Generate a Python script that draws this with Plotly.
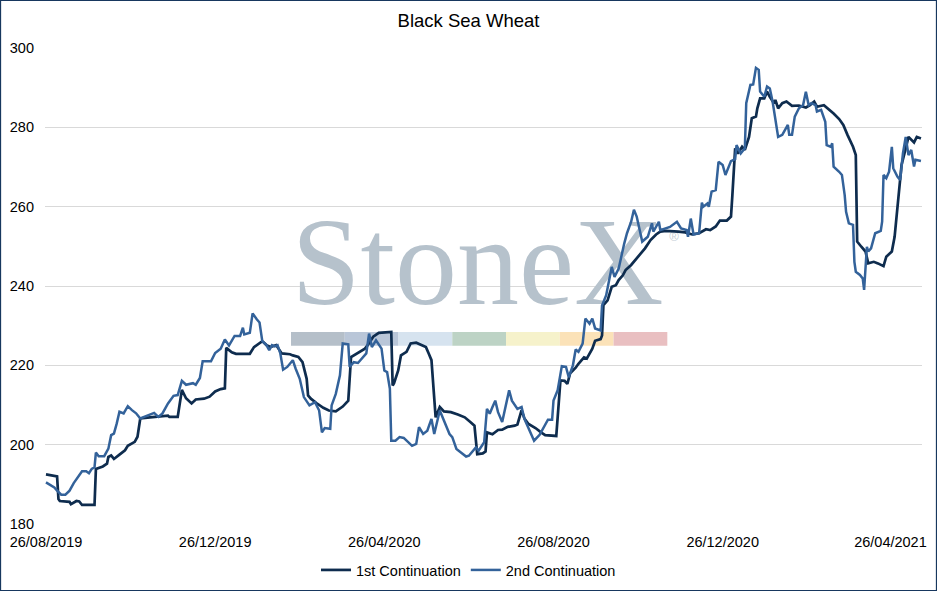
import plotly.graph_objects as go

# 1st continuation
dates_1 = [
    "2019-08-26", "2019-08-29", "2019-09-03", "2019-09-04", "2019-09-05", "2019-09-12",
    "2019-09-13", "2019-09-17", "2019-09-19", "2019-09-21", "2019-09-30", "2019-10-01",
    "2019-10-06", "2019-10-09", "2019-10-10", "2019-10-12", "2019-10-14", "2019-10-18",
    "2019-10-22", "2019-10-24", "2019-10-29", "2019-10-31", "2019-11-02", "2019-11-09",
    "2019-11-18", "2019-11-22", "2019-11-23", "2019-11-29", "2019-12-02", "2019-12-05",
    "2019-12-09", "2019-12-12", "2019-12-18", "2019-12-22", "2019-12-26", "2019-12-30",
    "2020-01-02", "2020-01-03", "2020-01-07", "2020-01-10", "2020-01-20", "2020-01-23",
    "2020-01-29", "2020-02-01", "2020-02-04", "2020-02-08", "2020-02-12", "2020-02-18",
    "2020-02-20", "2020-02-24", "2020-02-27", "2020-03-01", "2020-03-02", "2020-03-04",
    "2020-03-08", "2020-03-13", "2020-03-17", "2020-03-22", "2020-03-27", "2020-03-31",
    "2020-04-02", "2020-04-06", "2020-04-08", "2020-04-12", "2020-04-14", "2020-04-18",
    "2020-04-22", "2020-04-27", "2020-05-01", "2020-05-02", "2020-05-03", "2020-05-06",
    "2020-05-08", "2020-05-12", "2020-05-15", "2020-05-19", "2020-05-22", "2020-05-26",
    "2020-05-28", "2020-05-30", "2020-06-02", "2020-06-05", "2020-06-08", "2020-06-13",
    "2020-06-18", "2020-06-23", "2020-06-27", "2020-06-30", "2020-07-02", "2020-07-06",
    "2020-07-08", "2020-07-09", "2020-07-13", "2020-07-17", "2020-07-20", "2020-07-24",
    "2020-07-29", "2020-07-31", "2020-08-03", "2020-08-05", "2020-08-08", "2020-08-13",
    "2020-08-17", "2020-08-20", "2020-08-28", "2020-08-29", "2020-08-31", "2020-09-03",
    "2020-09-05", "2020-09-07", "2020-09-11", "2020-09-13", "2020-09-17", "2020-09-19",
    "2020-09-23", "2020-09-25", "2020-09-29", "2020-09-30", "2020-10-01", "2020-10-04",
    "2020-10-06", "2020-10-07", "2020-10-10", "2020-10-12", "2020-10-15", "2020-10-17",
    "2020-10-21", "2020-10-24", "2020-10-28", "2020-10-31", "2020-11-04", "2020-11-08",
    "2020-11-11", "2020-11-15", "2020-11-24", "2020-11-29", "2020-12-04", "2020-12-09",
    "2020-12-14", "2020-12-17", "2020-12-21", "2020-12-24", "2020-12-29", "2021-01-01",
    "2021-01-02", "2021-01-03", "2021-01-04", "2021-01-06", "2021-01-09", "2021-01-11",
    "2021-01-14", "2021-01-16", "2021-01-19", "2021-01-20", "2021-01-22", "2021-01-25",
    "2021-01-27", "2021-01-29", "2021-02-01", "2021-02-02", "2021-02-04", "2021-02-07",
    "2021-02-10", "2021-02-14", "2021-02-19", "2021-02-24", "2021-02-27", "2021-03-02",
    "2021-03-04", "2021-03-09", "2021-03-12", "2021-03-16", "2021-03-20", "2021-03-23",
    "2021-03-26", "2021-03-28", "2021-03-30", "2021-04-01", "2021-04-02", "2021-04-05",
    "2021-04-08", "2021-04-10", "2021-04-14", "2021-04-17", "2021-04-21", "2021-04-23",
    "2021-04-27", "2021-04-29", "2021-05-02", "2021-05-04", "2021-05-07", "2021-05-09",
    "2021-05-13", "2021-05-15", "2021-05-18",
]
values_1 = [
    192.5, 192.3, 192.0, 186.3, 185.8, 185.6,
    185.0, 185.8, 185.7, 184.8, 184.8, 193.9,
    194.5, 195.2, 196.9, 197.3, 196.4, 197.5,
    198.6, 199.7, 200.7, 202.0, 206.6, 206.9,
    207.2, 207.3, 207.0, 207.0, 213.8, 211.7,
    210.4, 211.4, 211.6, 212.1, 213.4, 214.0,
    214.2, 224.4, 223.3, 222.9, 222.9, 224.6,
    226.1, 225.1, 224.6, 225.1, 223.0, 222.8,
    222.5, 222.1, 220.8, 216.6, 212.4, 211.6,
    210.5, 209.3, 208.6, 208.4, 209.6, 211.1,
    222.1, 223.0, 223.4, 224.2, 225.1, 227.2,
    228.2, 228.4, 228.4, 214.9, 215.5, 218.7,
    222.5, 223.4, 225.5, 225.7, 225.3, 224.6,
    223.0, 221.3, 206.9, 209.5, 208.4, 208.2,
    207.6, 206.9, 205.7, 204.8, 197.6, 197.8,
    198.3, 203.1, 202.6, 203.7, 203.8, 204.5,
    204.8, 205.1, 208.7, 206.6, 205.2, 204.2,
    203.1, 202.4, 202.2, 207.3, 216.2, 216.1,
    215.3, 218.0, 219.4, 220.4, 222.0, 221.7,
    224.2, 226.2, 226.6, 227.5, 235.2, 236.4,
    238.5, 239.8, 240.2, 241.5, 242.7, 244.0,
    245.3, 246.5, 248.2, 249.5, 251.6, 253.0,
    253.7, 253.9, 253.7, 253.5, 253.0, 253.3,
    254.3, 254.1, 255.0, 256.5, 256.5, 257.5,
    262.9, 269.7, 274.7, 273.4, 275.1, 274.3,
    277.6, 282.3, 282.7, 284.8, 287.3, 287.3,
    289.0, 287.7, 286.1, 286.9, 284.8, 286.1,
    286.5, 285.4, 285.5, 285.0, 285.6, 286.5,
    285.2, 285.6, 284.8, 283.5, 282.1, 280.6,
    278.1, 276.8, 275.1, 273.0, 251.2, 249.9,
    248.7, 245.7, 246.1, 245.7, 245.0, 247.4,
    248.7, 252.4, 262.9, 270.5, 274.7, 277.6,
    276.2, 277.6, 277.2,
]

# 2nd continuation
dates_2 = [
    "2019-08-26", "2019-08-29", "2019-09-01", "2019-09-03", "2019-09-06", "2019-09-09",
    "2019-09-12", "2019-09-15", "2019-09-18", "2019-09-21", "2019-09-24", "2019-09-26",
    "2019-09-28", "2019-09-30", "2019-10-01", "2019-10-03", "2019-10-07", "2019-10-10",
    "2019-10-12", "2019-10-14", "2019-10-16", "2019-10-18", "2019-10-21", "2019-10-24",
    "2019-10-27", "2019-10-30", "2019-11-02", "2019-11-06", "2019-11-12", "2019-11-15",
    "2019-11-18", "2019-11-22", "2019-11-26", "2019-11-29", "2019-12-02", "2019-12-05",
    "2019-12-10", "2019-12-12", "2019-12-15", "2019-12-17", "2019-12-23", "2019-12-26",
    "2019-12-30", "2020-01-02", "2020-01-05", "2020-01-09", "2020-01-13", "2020-01-15",
    "2020-01-16", "2020-01-20", "2020-01-22", "2020-01-25", "2020-01-27", "2020-01-29",
    "2020-02-01", "2020-02-03", "2020-02-05", "2020-02-07", "2020-02-09", "2020-02-11",
    "2020-02-13", "2020-02-16", "2020-02-20", "2020-02-22", "2020-02-25", "2020-02-28",
    "2020-03-03", "2020-03-07", "2020-03-10", "2020-03-12", "2020-03-14", "2020-03-18",
    "2020-03-19", "2020-03-22", "2020-03-25", "2020-03-27", "2020-03-31", "2020-04-01",
    "2020-04-04", "2020-04-07", "2020-04-10", "2020-04-13", "2020-04-15", "2020-04-17",
    "2020-04-20", "2020-04-24", "2020-04-26", "2020-04-28", "2020-04-30", "2020-05-01",
    "2020-05-04", "2020-05-07", "2020-05-10", "2020-05-13", "2020-05-16", "2020-05-19",
    "2020-05-21", "2020-05-24", "2020-05-27", "2020-05-30", "2020-06-01", "2020-06-05",
    "2020-06-08", "2020-06-12", "2020-06-14", "2020-06-17", "2020-06-20", "2020-06-24",
    "2020-06-26", "2020-06-29", "2020-07-01", "2020-07-03", "2020-07-07", "2020-07-09",
    "2020-07-11", "2020-07-13", "2020-07-15", "2020-07-17", "2020-07-20", "2020-07-25",
    "2020-07-27", "2020-07-31", "2020-08-03", "2020-08-05", "2020-08-08", "2020-08-12",
    "2020-08-16", "2020-08-20", "2020-08-22", "2020-08-25", "2020-08-26", "2020-08-29",
    "2020-09-01", "2020-09-04", "2020-09-06", "2020-09-09", "2020-09-11", "2020-09-13",
    "2020-09-16", "2020-09-18", "2020-09-21", "2020-09-23", "2020-09-25", "2020-09-29",
    "2020-09-30", "2020-10-03", "2020-10-05", "2020-10-07", "2020-10-09", "2020-10-12",
    "2020-10-16", "2020-10-18", "2020-10-21", "2020-10-23", "2020-10-25", "2020-10-27",
    "2020-10-29", "2020-11-02", "2020-11-05", "2020-11-06", "2020-11-10", "2020-11-11",
    "2020-11-15", "2020-11-18", "2020-11-23", "2020-11-26", "2020-11-30", "2020-12-01",
    "2020-12-03", "2020-12-05", "2020-12-09", "2020-12-11", "2020-12-12", "2020-12-15",
    "2020-12-16", "2020-12-18", "2020-12-21", "2020-12-23", "2020-12-26", "2020-12-28",
    "2021-01-01", "2021-01-04", "2021-01-05", "2021-01-08", "2021-01-11", "2021-01-12",
    "2021-01-15", "2021-01-17", "2021-01-19", "2021-01-21", "2021-01-22", "2021-01-25",
    "2021-01-27", "2021-01-29", "2021-01-31", "2021-02-02", "2021-02-04", "2021-02-07",
    "2021-02-09", "2021-02-11", "2021-02-12", "2021-02-14", "2021-02-16", "2021-02-19",
    "2021-02-22", "2021-02-24", "2021-02-26", "2021-02-28", "2021-03-03", "2021-03-04",
    "2021-03-07", "2021-03-10", "2021-03-11", "2021-03-14", "2021-03-15", "2021-03-16",
    "2021-03-20", "2021-03-22", "2021-03-24", "2021-03-25", "2021-03-27", "2021-03-30",
    "2021-03-31", "2021-04-01", "2021-04-04", "2021-04-06", "2021-04-07", "2021-04-09",
    "2021-04-10", "2021-04-12", "2021-04-15", "2021-04-19", "2021-04-20", "2021-04-21",
    "2021-04-23", "2021-04-25", "2021-04-27", "2021-04-28", "2021-05-01", "2021-05-03",
    "2021-05-05", "2021-05-07", "2021-05-09", "2021-05-11", "2021-05-13", "2021-05-14",
    "2021-05-18",
]
values_2 = [
    190.5, 189.9, 189.2, 188.4, 187.4, 187.4,
    188.4, 190.3, 191.8, 193.3, 193.3, 192.8,
    193.9, 194.3, 198.0, 197.1, 197.1, 199.0,
    202.4, 202.8, 205.3, 208.3, 207.9, 209.7,
    208.7, 207.9, 206.6, 207.2, 208.0, 207.0,
    207.9, 210.4, 212.3, 212.5, 216.1, 215.1,
    215.5, 215.1, 216.8, 221.0, 221.0, 223.1,
    224.2, 226.5, 225.0, 227.4, 227.4, 229.5,
    227.8, 228.2, 233.1, 231.6, 230.8, 226.1,
    225.1, 223.8, 225.1, 224.8, 225.1, 223.0,
    218.9, 219.6, 221.3, 219.2, 216.6, 212.0,
    209.9, 210.7, 208.6, 203.1, 204.2, 204.0,
    209.9, 212.8, 217.5, 225.5, 225.3, 219.6,
    220.8, 220.6, 221.9, 223.0, 228.0, 224.6,
    226.3, 224.2, 218.7, 218.3, 214.1, 201.0,
    201.0, 201.9, 201.7, 200.6, 199.7, 200.2,
    204.4, 202.7, 203.5, 206.5, 202.7, 208.6,
    206.1, 202.7, 201.9, 198.9, 198.1, 197.0,
    197.2, 198.3, 199.3, 198.5, 200.6, 209.0,
    207.8, 209.5, 211.1, 208.2, 205.7, 213.7,
    211.1, 209.0, 209.5, 206.5, 204.0, 201.0,
    202.5, 204.8, 206.3, 206.3, 211.1, 213.7,
    219.8, 219.6, 217.0, 220.0, 224.0, 223.4,
    225.5, 231.8, 230.5, 231.8, 229.3, 228.8,
    235.1, 237.7, 241.5, 244.8, 242.3, 244.4,
    250.7, 253.3, 256.2, 259.2, 257.5, 254.5,
    251.2, 252.4, 255.8, 253.7, 256.2, 254.1,
    254.5, 254.9, 256.2, 254.5, 254.1, 252.4,
    257.0, 253.0, 253.3, 261.0, 260.0, 260.8,
    260.0, 263.8, 264.2, 271.3, 270.5, 268.0,
    271.5, 272.0, 275.5, 273.4, 274.7, 286.1,
    290.7, 290.8, 295.0, 294.5, 289.0, 287.7,
    290.3, 289.8, 286.5, 282.3, 277.6, 278.1,
    279.3, 280.6, 278.1, 278.1, 282.7, 284.8,
    285.6, 289.0, 285.6, 286.1, 285.6, 284.0,
    284.4, 281.4, 275.5, 275.1, 276.0, 270.1,
    268.8, 268.0, 262.9, 258.7, 255.8, 255.4,
    246.1, 243.6, 242.8, 241.9, 239.0, 249.9,
    248.7, 249.5, 253.3, 253.9, 256.2, 268.0,
    267.2, 268.8, 275.1, 269.7, 267.6, 266.7,
    273.4, 277.6, 273.0, 274.3, 270.1, 271.8,
    271.5,
]

tick_dates = ["2019-08-26", "2019-12-26", "2020-04-26", "2020-08-26", "2020-12-26", "2021-04-26"]
tick_labels = ["26/08/2019", "26/12/2019", "26/04/2020", "26/08/2020", "26/12/2020", "26/04/2021"]

FONT = "Liberation Sans, Arial, sans-serif"
WM_COLOR = "#b6c2cc"
bar_colors = ["#b5bfc9", "#b9c6d8", "#d6e3ef", "#bdd3c5", "#f6f2cb", "#fbe2b8", "#e9bfc1"]

fig = go.Figure()

# StoneX watermark word, drawn first so the lines sit on top
fig.add_trace(go.Scatter(
    x=["2020-07-02 06:00"], y=[243.2], mode="text", text=["StoneX"],
    textposition="middle center",
    textfont=dict(family="Liberation Serif, Times New Roman, serif", size=124, color=WM_COLOR),
    showlegend=False, hoverinfo="skip",
))
fig.add_trace(go.Scatter(
    x=["2020-11-21 00:00"], y=[252.2], mode="text", text=["®"],
    textposition="middle center",
    textfont=dict(family=FONT, size=13, color="#c4ced6"),
    showlegend=False, hoverinfo="skip",
))

fig.add_trace(go.Scatter(
    x=dates_1, y=values_1, mode="lines", name="1st Continuation",
    line=dict(color="#0e2c4e", width=2.7),
))
fig.add_trace(go.Scatter(
    x=dates_2, y=values_2, mode="lines", name="2nd Continuation",
    line=dict(color="#33629a", width=2.5),
))

shapes = []
# coloured band under the watermark
bx0, bw = 0.2805, 0.0613
for i, c in enumerate(bar_colors):
    shapes.append(dict(
        type="rect", xref="paper", yref="paper", layer="below",
        x0=bx0 + i * bw, x1=bx0 + (i + 1) * bw, y0=0.3747, y1=0.4035,
        fillcolor=c, line=dict(width=0),
    ))
# chart border
shapes.append(dict(
    type="rect", xref="paper", yref="paper",
    x0=-0.0507, x1=1.0165, y0=-0.1397, y1=1.0998,
    line=dict(color="#17375e", width=1.2), fillcolor="rgba(0,0,0,0)",
))

fig.update_layout(
    width=937, height=591,
    margin=dict(l=45, r=15, t=48, b=67),
    paper_bgcolor="white", plot_bgcolor="white",
    font=dict(family=FONT, size=14.5, color="#000000"),
    title=dict(text="Black Sea Wheat", x=0.5, xref="container", xanchor="center",
               y=0.9645, yref="container", yanchor="middle",
               font=dict(family=FONT, size=18.5, color="#000000")),
    xaxis=dict(
        type="date", range=["2019-08-25 07:00", "2021-05-18 18:00"],
        tickvals=tick_dates, ticktext=tick_labels,
        showgrid=False, zeroline=False, showline=False, ticks="",
        ticklabelstandoff=7, automargin=False,
        tickfont=dict(family=FONT, size=14.5, color="#000000"),
    ),
    yaxis=dict(
        range=[180, 300], dtick=20, tick0=180,
        showgrid=True, gridcolor="#d9d9d9", gridwidth=1,
        zeroline=False, showline=False, ticks="",
        ticklabelstandoff=10, automargin=False,
        tickfont=dict(family=FONT, size=14.5, color="#000000"),
    ),
    legend=dict(
        orientation="h", x=0.5, xref="container", xanchor="center",
        y=1 - 570 / 591, yref="container", yanchor="middle",
        font=dict(family=FONT, size=14.5, color="#000000"),
        itemwidth=30, bgcolor="rgba(0,0,0,0)",
    ),
    shapes=shapes,
    showlegend=True,
)

# the page keeps no default body margin, so the figure fills the window
fig.write_html("out.html", config={"displayModeBar": False},
               post_script="document.body.style.margin='0px';")
